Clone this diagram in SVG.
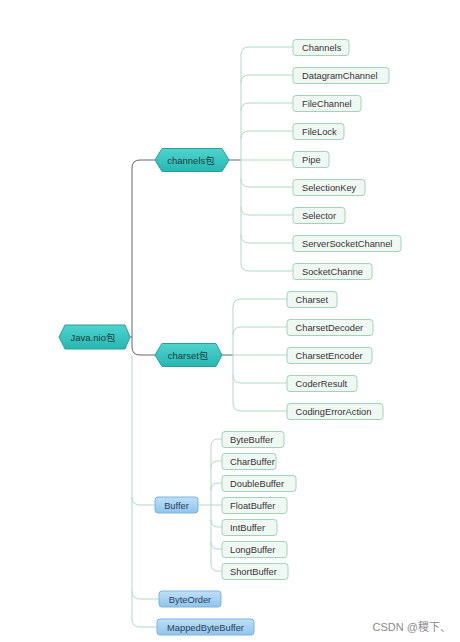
<svg xmlns="http://www.w3.org/2000/svg" width="460" height="642" viewBox="0 0 460 642">
<defs>
<linearGradient id="teal" x1="0" y1="0" x2="0" y2="1">
<stop offset="0" stop-color="#4fd4cf"/>
<stop offset="1" stop-color="#27b6b1"/>
</linearGradient>
<linearGradient id="blue" x1="0" y1="0" x2="0" y2="1">
<stop offset="0" stop-color="#bfe0f8"/>
<stop offset="1" stop-color="#8ec4ee"/>
</linearGradient>
<style>
.hex{fill:url(#teal);stroke:#2a9e99;stroke-width:1;stroke-linejoin:round}
.leaf{fill:#f0f8f3;stroke:#a3d2b6;stroke-width:1}
.blue{fill:url(#blue);stroke:#7eb3df;stroke-width:1}
.t{font-family:"Liberation Sans","Noto Sans CJK SC",sans-serif;font-size:9.3px;fill:#333}
.ht{font-family:"Liberation Sans","Noto Sans CJK SC",sans-serif;font-size:9.5px;fill:#1d3d3c;text-anchor:middle}
.bt{font-family:"Liberation Sans","Noto Sans CJK SC",sans-serif;font-size:9.3px;fill:#2a3d55;text-anchor:middle}
.dark{fill:none;stroke:#666;stroke-width:1}
.lg{fill:none;stroke:#b3d9c3;stroke-width:1}
.wm{font-family:"Liberation Sans","Noto Sans CJK SC",sans-serif;font-size:11px;fill:#8a8a8a;text-anchor:end}
</style>
</defs>
<rect width="460" height="642" fill="#fff"/>
<g id="connectors">
<path class="dark" d="M130,337 H132"/>
<path class="dark" d="M155,160 H140 Q132,160 132,168 V347 Q132,355 140,355 H155"/>
<path class="lg" d="M132,355 V619 Q132,627 140,627 H157"/>
<path class="lg" d="M132,497 Q132,505 140,505 H155"/>
<path class="lg" d="M132,591 Q132,599 140,599 H159"/>
<path class="dark" d="M229,160 H241"/>
<path class="lg" d="M293,47 H249 Q241,47 241,55 V263 Q241,271 249,271 H293"/>
<path class="lg" d="M241,83 Q241,75 249,75 H293"/>
<path class="lg" d="M241,111 Q241,103 249,103 H293"/>
<path class="lg" d="M241,139 Q241,131 249,131 H293"/>
<path class="lg" d="M241,160 H293"/>
<path class="lg" d="M241,179 Q241,187 249,187 H293"/>
<path class="lg" d="M241,207 Q241,215 249,215 H293"/>
<path class="lg" d="M241,235 Q241,243 249,243 H293"/>
<path class="dark" d="M222,355 H233"/>
<path class="lg" d="M287,299 H241 Q233,299 233,307 V403 Q233,411 241,411 H287"/>
<path class="lg" d="M233,335 Q233,327 241,327 H287"/>
<path class="lg" d="M233,355 H287"/>
<path class="lg" d="M233,375 Q233,383 241,383 H287"/>
<path class="lg" d="M198,505 H211"/>
<path class="lg" d="M222,439 H218 Q211,439 211,446 V564 Q211,571 218,571 H222"/>
<path class="lg" d="M211,468 Q211,461 218,461 H222"/>
<path class="lg" d="M211,490 Q211,483 218,483 H222"/>
<path class="lg" d="M211,505 H222"/>
<path class="lg" d="M211,520 Q211,527 218,527 H222"/>
<path class="lg" d="M211,542 Q211,549 218,549 H222"/>
</g>
<g id="root"><polygon class="hex" points="59,337 65,325 125,325 130,337 125,349 65,349"/><text class="ht" x="93" y="340.5">Java.nio包</text></g>
<g id="channels"><polygon class="hex" points="155,160 162,148.5 222,148.5 229,160 222,171.5 162,171.5"/><text class="ht" x="191" y="163.5">channels包</text></g>
<g id="charset"><polygon class="hex" points="155,355 162,343.5 216,343.5 222,355 216,366.5 162,366.5"/><text class="ht" x="188" y="358.5">charset包</text></g>
<g id="n-Channels"><rect class="leaf" x="293" y="39.5" width="56" height="16" rx="3"/><text class="t" x="302" y="51">Channels</text></g>
<g id="n-DatagramChannel"><rect class="leaf" x="293" y="67.5" width="96" height="16" rx="3"/><text class="t" x="302" y="79">DatagramChannel</text></g>
<g id="n-FileChannel"><rect class="leaf" x="293" y="95.5" width="68" height="16" rx="3"/><text class="t" x="302" y="107">FileChannel</text></g>
<g id="n-FileLock"><rect class="leaf" x="293" y="123.5" width="51" height="16" rx="3"/><text class="t" x="302" y="135">FileLock</text></g>
<g id="n-Pipe"><rect class="leaf" x="293" y="151.5" width="36" height="16" rx="3"/><text class="t" x="302" y="163">Pipe</text></g>
<g id="n-SelectionKey"><rect class="leaf" x="293" y="179.5" width="72" height="16" rx="3"/><text class="t" x="302" y="191">SelectionKey</text></g>
<g id="n-Selector"><rect class="leaf" x="293" y="207.5" width="52" height="16" rx="3"/><text class="t" x="302" y="219">Selector</text></g>
<g id="n-ServerSocketChannel"><rect class="leaf" x="293" y="235.5" width="108" height="16" rx="3"/><text class="t" x="302" y="247">ServerSocketChannel</text></g>
<g id="n-SocketChanne"><rect class="leaf" x="293" y="263.5" width="79" height="16" rx="3"/><text class="t" x="302" y="275">SocketChanne</text></g>
<g id="n-Charset"><rect class="leaf" x="287" y="291.5" width="50" height="16" rx="3"/><text class="t" x="295.5" y="303">Charset</text></g>
<g id="n-CharsetDecoder"><rect class="leaf" x="287" y="319.5" width="86" height="16" rx="3"/><text class="t" x="295.5" y="331">CharsetDecoder</text></g>
<g id="n-CharsetEncoder"><rect class="leaf" x="287" y="347.5" width="85" height="16" rx="3"/><text class="t" x="295.5" y="359">CharsetEncoder</text></g>
<g id="n-CoderResult"><rect class="leaf" x="287" y="375.5" width="70" height="16" rx="3"/><text class="t" x="295.5" y="387">CoderResult</text></g>
<g id="n-CodingErrorAction"><rect class="leaf" x="287" y="403.5" width="96" height="16" rx="3"/><text class="t" x="295.5" y="415">CodingErrorAction</text></g>
<g id="n-Buffer"><rect class="blue" x="155" y="497" width="43" height="16" rx="3"/><text class="bt" x="176.5" y="508.5">Buffer</text></g>
<g id="n-ByteBuffer"><rect class="leaf" x="222" y="431.5" width="62" height="16" rx="3"/><text class="t" x="230" y="443">ByteBuffer</text></g>
<g id="n-CharBuffer"><rect class="leaf" x="222" y="453.5" width="54" height="16" rx="3"/><text class="t" x="230" y="465">CharBuffer</text></g>
<g id="n-DoubleBuffer"><rect class="leaf" x="222" y="475.5" width="74" height="16" rx="3"/><text class="t" x="230" y="487">DoubleBuffer</text></g>
<g id="n-FloatBuffer"><rect class="leaf" x="222" y="497.5" width="65" height="16" rx="3"/><text class="t" x="230" y="509">FloatBuffer</text></g>
<g id="n-IntBuffer"><rect class="leaf" x="222" y="519.5" width="55" height="16" rx="3"/><text class="t" x="230" y="531">IntBuffer</text></g>
<g id="n-LongBuffer"><rect class="leaf" x="222" y="541.5" width="65" height="16" rx="3"/><text class="t" x="230" y="553">LongBuffer</text></g>
<g id="n-ShortBuffer"><rect class="leaf" x="222" y="563.5" width="66" height="16" rx="3"/><text class="t" x="230" y="575">ShortBuffer</text></g>
<g id="n-ByteOrder"><rect class="blue" x="159" y="591" width="62" height="16" rx="3"/><text class="bt" x="190" y="602.5">ByteOrder</text></g>
<g id="n-MappedByteBuffer"><rect class="blue" x="157" y="619" width="97" height="16" rx="3"/><text class="bt" x="205.5" y="630.5">MappedByteBuffer</text></g>
<text class="wm" x="451" y="631">CSDN @稷下、</text>
</svg>
